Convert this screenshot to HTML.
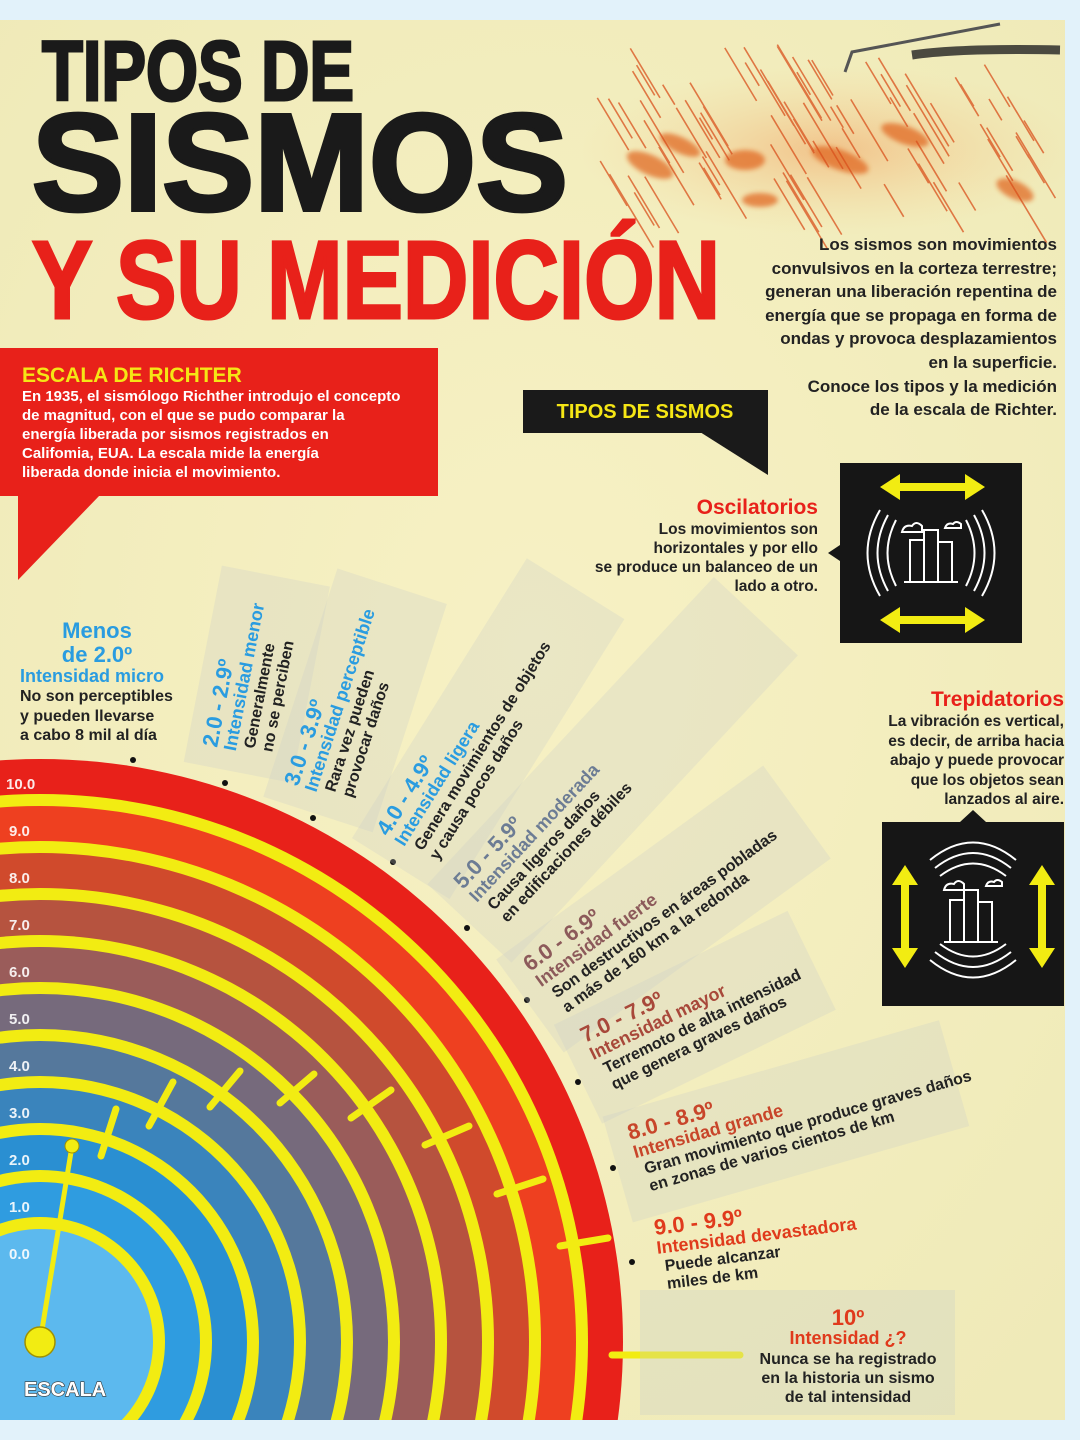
<!DOCTYPE html>
<html><head><meta charset="utf-8">
<style>
html,body{margin:0;padding:0;background:#e2f2fa;width:1080px;height:1440px;overflow:hidden;}
svg{display:block}
text{font-family:"Liberation Sans",sans-serif;}
</style></head>
<body>
<svg width="1080" height="1440" viewBox="0 0 1080 1440" xmlns="http://www.w3.org/2000/svg">
<defs>
<clipPath id="pg"><rect x="0" y="20" width="1065" height="1400"/></clipPath>
<radialGradient id="bgg" cx="0.5" cy="0.45" r="0.7">
<stop offset="0" stop-color="#f7f1c4"/><stop offset="1" stop-color="#efeab8"/></radialGradient>
<radialGradient id="seis" cx="0.5" cy="0.5" r="0.5">
<stop offset="0" stop-color="#f0a060" stop-opacity="0.55"/><stop offset="1" stop-color="#f5d090" stop-opacity="0"/></radialGradient>
<filter id="bl"><feGaussianBlur stdDeviation="2.5"/></filter>
</defs>
<rect x="0" y="0" width="1080" height="1440" fill="#e2f2fa"/>
<g clip-path="url(#pg)">
<rect x="0" y="20" width="1065" height="1400" fill="url(#bgg)"/>
<!-- seismograph -->
<ellipse cx="830" cy="150" rx="250" ry="85" fill="url(#seis)"/>
<g filter="url(#bl)" fill="#e0641e" opacity="0.7">
<ellipse cx="650" cy="165" rx="25" ry="10" transform="rotate(25 650 165)"/>
<ellipse cx="680" cy="145" rx="22" ry="8" transform="rotate(25 680 145)"/>
<ellipse cx="745" cy="160" rx="20" ry="10"/>
<ellipse cx="840" cy="160" rx="30" ry="10" transform="rotate(20 840 160)"/>
<ellipse cx="905" cy="135" rx="25" ry="9" transform="rotate(20 905 135)"/>
<ellipse cx="1015" cy="190" rx="20" ry="9" transform="rotate(25 1015 190)"/>
<ellipse cx="760" cy="200" rx="18" ry="7"/>
</g>
<g id="seisg" stroke="#d8501c" stroke-width="1.6" fill="none" opacity="0.75"></g>
<path d="M845 72 L852 52 L1000 24" stroke="#555" stroke-width="3" fill="none"/>
<path d="M912 55 Q960 48 1060 50" stroke="#222" stroke-width="9" fill="none" opacity="0.8"/>

<!-- arcs -->
<g>
<circle cx="40" cy="1342" r="583" fill="#e8211a"/><circle cx="40" cy="1342" r="548" fill="#f2ec12"/>
<circle cx="40" cy="1342" r="536" fill="#ee4020"/><circle cx="40" cy="1342" r="501" fill="#f2ec12"/>
<circle cx="40" cy="1342" r="489" fill="#d04a2c"/><circle cx="40" cy="1342" r="454" fill="#f2ec12"/>
<circle cx="40" cy="1342" r="442" fill="#b6533f"/><circle cx="40" cy="1342" r="407" fill="#f2ec12"/>
<circle cx="40" cy="1342" r="395" fill="#9a5c5a"/><circle cx="40" cy="1342" r="360" fill="#f2ec12"/>
<circle cx="40" cy="1342" r="348" fill="#766a7c"/><circle cx="40" cy="1342" r="313" fill="#f2ec12"/>
<circle cx="40" cy="1342" r="301" fill="#55789c"/><circle cx="40" cy="1342" r="266" fill="#f2ec12"/>
<circle cx="40" cy="1342" r="254" fill="#3a84bc"/><circle cx="40" cy="1342" r="219" fill="#f2ec12"/>
<circle cx="40" cy="1342" r="207" fill="#2a8fd2"/><circle cx="40" cy="1342" r="172" fill="#f2ec12"/>
<circle cx="40" cy="1342" r="160" fill="#2f9ce0"/><circle cx="40" cy="1342" r="125" fill="#f2ec12"/>
<circle cx="40" cy="1342" r="113" fill="#5cb9ee"/>
</g>
<g fill="#fff" font-weight="bold" font-size="15" opacity="0.9">
<text x="6" y="789">10.0</text><text x="9" y="836">9.0</text><text x="9" y="883">8.0</text>
<text x="9" y="930">7.0</text><text x="9" y="977">6.0</text><text x="9" y="1024">5.0</text>
<text x="9" y="1071">4.0</text><text x="9" y="1118">3.0</text><text x="9" y="1165">2.0</text>
<text x="9" y="1212">1.0</text><text x="9" y="1259">0.0</text>
</g>
<g stroke="#f2ec12" stroke-width="7" stroke-linecap="round">
<line x1="101" y1="1156" x2="116" y2="1109"/><line x1="149" y1="1126" x2="173" y2="1082"/>
<line x1="210" y1="1107" x2="240" y2="1071"/><line x1="280" y1="1103" x2="314" y2="1074"/>
<line x1="351" y1="1118" x2="391" y2="1090"/><line x1="425" y1="1145" x2="469" y2="1126"/>
<line x1="497" y1="1194" x2="543" y2="1179"/><line x1="560" y1="1246" x2="608" y2="1238"/>
<line x1="612" y1="1355" x2="740" y2="1355"/>
<line x1="40" y1="1342" x2="72" y2="1146" stroke-width="5"/>
</g>
<circle cx="72" cy="1146" r="7" fill="#f2ec12" stroke="#a09000" stroke-width="1"/>
<circle cx="40" cy="1342" r="15" fill="#f2ec12" stroke="#a09000" stroke-width="1.5"/>
<text x="24" y="1396" font-size="20" font-weight="bold" fill="#fff" stroke="#333" stroke-width="1.2" paint-order="stroke">ESCALA</text>
</g>

<!-- title -->
<text x="42" y="100" font-size="84" font-weight="bold" fill="#1a1a1a" stroke="#1a1a1a" stroke-width="3" textLength="312" lengthAdjust="spacingAndGlyphs">TIPOS DE</text>
<text x="32" y="210" font-size="138" font-weight="bold" fill="#1a1a1a" stroke="#1a1a1a" stroke-width="4" textLength="536" lengthAdjust="spacingAndGlyphs">SISMOS</text>
<text x="32" y="318" font-size="110" font-weight="bold" fill="#e8211a" stroke="#e8211a" stroke-width="3" textLength="688" lengthAdjust="spacingAndGlyphs">Y SU MEDICIÓN</text>

<!-- intro paragraph -->
<g font-size="17" font-weight="bold" fill="#222" text-anchor="end">
<text x="1057" y="250">Los sismos son movimientos</text>
<text x="1057" y="274">convulsivos en la corteza terrestre;</text>
<text x="1057" y="297">generan una liberación repentina de</text>
<text x="1057" y="321">energía que se propaga en forma de</text>
<text x="1057" y="344">ondas y provoca desplazamientos</text>
<text x="1057" y="368">en la superficie.</text>
<text x="1057" y="392">Conoce los tipos y la medición</text>
<text x="1057" y="415">de la escala de Richter.</text>
</g>

<!-- Richter box -->
<rect x="0" y="348" width="438" height="148" fill="#e8211a"/>
<polygon points="18,495 100,495 18,580" fill="#e8211a"/>
<text x="22" y="382" font-size="21" font-weight="bold" fill="#f5e615">ESCALA DE RICHTER</text>
<g font-size="15" font-weight="bold" fill="#fff">
<text x="22" y="401">En 1935, el sismólogo Richther introdujo el concepto</text>
<text x="22" y="420">de magnitud, con el que se pudo comparar la</text>
<text x="22" y="439">energía liberada por sismos registrados en</text>
<text x="22" y="458">Califomia, EUA. La escala mide la energía</text>
<text x="22" y="477">liberada donde inicia el movimiento.</text>
</g>

<!-- Tipos de sismos label -->
<rect x="523" y="390" width="245" height="43" fill="#1a1a1a"/>
<polygon points="700,432 768,432 768,475" fill="#1a1a1a"/>
<text x="645" y="418" font-size="20" font-weight="bold" fill="#f5e615" text-anchor="middle">TIPOS DE SISMOS</text>

<!-- Oscilatorios -->
<text x="818" y="514" font-size="21" font-weight="bold" fill="#e8211a" text-anchor="end">Oscilatorios</text>
<g font-size="15.5" font-weight="bold" fill="#222" text-anchor="end">
<text x="818" y="534">Los movimientos  son</text>
<text x="818" y="553">horizontales y por ello</text>
<text x="818" y="572">se produce un balanceo  de un</text>
<text x="818" y="591">lado a otro.</text>
</g>
<rect x="840" y="463" width="182" height="180" fill="#161616"/>
<polygon points="840,545 828,553 840,561" fill="#161616"/>
<g fill="#f2ec12">
<polygon points="880,487 900,474 900,483 965,483 965,474 985,487 965,500 965,491 900,491 900,500"/>
<polygon points="880,620 900,607 900,616 965,616 965,607 985,620 965,633 965,624 900,624 900,633"/>
</g>
<g stroke="#fff" stroke-width="2" fill="none">
<path d="M880 510 Q855 553 880 596"/><path d="M888 515 Q867 553 888 591"/><path d="M896 520 Q879 553 896 586"/>
<path d="M982 510 Q1007 553 982 596"/><path d="M974 515 Q995 553 974 591"/><path d="M966 520 Q983 553 966 586"/>
<rect x="910" y="540" width="14" height="42"/><rect x="924" y="530" width="14" height="52"/><rect x="938" y="542" width="14" height="40"/>
<line x1="904" y1="582" x2="958" y2="582"/>
<path d="M902 532 q2 -8 10 -6 q4 -6 10 0 l0 6 z"/><path d="M945 528 q2 -6 8 -4 q3 -4 8 0 l0 4 z"/>
</g>

<!-- Trepidatorios -->
<text x="1064" y="706" font-size="21" font-weight="bold" fill="#e8211a" text-anchor="end">Trepidatorios</text>
<g font-size="15.5" font-weight="bold" fill="#222" text-anchor="end">
<text x="1064" y="726">La vibración es vertical,</text>
<text x="1064" y="746">es decir, de arriba hacia</text>
<text x="1064" y="765">abajo y puede provocar</text>
<text x="1064" y="785">que los objetos sean</text>
<text x="1064" y="804">lanzados al aire.</text>
</g>
<rect x="882" y="822" width="182" height="184" fill="#161616"/>
<polygon points="960,822 973,810 986,822" fill="#161616"/>
<g fill="#f2ec12">
<polygon points="905,865 918,885 909,885 909,948 918,948 905,968 892,948 901,948 901,885 892,885"/>
<polygon points="1042,865 1055,885 1046,885 1046,948 1055,948 1042,968 1029,948 1038,948 1038,885 1029,885"/>
</g>
<g stroke="#fff" stroke-width="2" fill="none">
<path d="M930 860 Q973 825 1016 860"/><path d="M935 868 Q973 838 1011 868"/><path d="M940 876 Q973 851 1006 876"/>
<path d="M930 960 Q973 995 1016 960"/><path d="M935 952 Q973 982 1011 952"/><path d="M940 944 Q973 969 1006 944"/>
<rect x="950" y="900" width="14" height="42"/><rect x="964" y="890" width="14" height="52"/><rect x="978" y="902" width="14" height="40"/>
<line x1="944" y1="942" x2="998" y2="942"/>
<path d="M944 890 q2 -8 10 -6 q4 -6 10 0 l0 6 z"/><path d="M986 886 q2 -6 8 -4 q3 -4 8 0 l0 4 z"/>
</g>

<!-- Menos de 2.0 -->
<text x="97" y="638" font-size="22" font-weight="bold" fill="#2a9ce0" text-anchor="middle">Menos</text>
<text x="97" y="662" font-size="22" font-weight="bold" fill="#2a9ce0" text-anchor="middle">de 2.0º</text>
<text x="20" y="682" font-size="18" font-weight="bold" fill="#2a9ce0">Intensidad micro</text>
<g font-size="16" font-weight="bold" fill="#222">
<text x="20" y="701">No son perceptibles</text><text x="20" y="721">y pueden llevarse</text><text x="20" y="740">a cabo 8 mil al día</text>
</g>

<!-- dots -->
<g fill="#111">
<circle cx="133" cy="760" r="3"/><circle cx="225" cy="783" r="3"/><circle cx="313" cy="818" r="3"/>
<circle cx="393" cy="862" r="3"/><circle cx="467" cy="928" r="3"/><circle cx="527" cy="1000" r="3"/>
<circle cx="578" cy="1082" r="3"/><circle cx="613" cy="1168" r="3"/><circle cx="632" cy="1262" r="3"/>
</g>

<!-- sector labels -->
<g font-weight="bold">
<g transform="translate(217,748) rotate(-79)">
<rect x="-20" y="-30" width="200" height="110" fill="#c8ccc8" opacity="0.28"/>
<text x="0" y="0" font-size="22" fill="#2a9ce0">2.0 - 2.9º</text>
<text x="0" y="19" font-size="18" fill="#2a9ce0">Intensidad menor</text>
<text x="6" y="37" font-size="16" fill="#222">Generalmente</text>
<text x="6" y="55" font-size="16" fill="#222">no se perciben</text>
</g>
<g transform="translate(298,787) rotate(-72)">
<rect x="-20" y="-30" width="240" height="115" fill="#c8ccc8" opacity="0.28"/>
<text x="0" y="0" font-size="22" fill="#2a9ce0">3.0 - 3.9º</text>
<text x="0" y="19" font-size="18" fill="#2a9ce0">Intensidad perceptible</text>
<text x="6" y="37" font-size="16" fill="#222">Rara vez pueden</text>
<text x="6" y="55" font-size="16" fill="#222">provocar daños</text>
</g>
<g transform="translate(388,837) rotate(-58)">
<rect x="-20" y="-30" width="330" height="115" fill="#c8ccc8" opacity="0.28"/>
<text x="0" y="0" font-size="22" fill="#2a9ce0">4.0 - 4.9º</text>
<text x="0" y="19" font-size="18" fill="#2a9ce0">Intensidad ligera</text>
<text x="6" y="37" font-size="16" fill="#222">Genera movimientos de objetos</text>
<text x="6" y="55" font-size="16" fill="#222">y causa pocos daños</text>
</g>
<g transform="translate(463,890) rotate(-47)">
<rect x="-20" y="-30" width="420" height="115" fill="#c8ccc8" opacity="0.28"/>
<text x="0" y="0" font-size="22" fill="#6c7c94">5.0 - 5.9º</text>
<text x="0" y="19" font-size="18" fill="#6c7c94">Intensidad moderada</text>
<text x="6" y="37" font-size="16" fill="#222">Causa ligeros daños</text>
<text x="6" y="55" font-size="16" fill="#222">en edificaciones débiles</text>
</g>
<g transform="translate(530,972) rotate(-36)">
<rect x="-20" y="-30" width="330" height="115" fill="#c8ccc8" opacity="0.28"/>
<text x="0" y="0" font-size="22" fill="#8c5a5a">6.0 - 6.9º</text>
<text x="0" y="19" font-size="18" fill="#8c5a5a">Intensidad fuerte</text>
<text x="6" y="37" font-size="16" fill="#222">Son destructivos en áreas pobladas</text>
<text x="6" y="55" font-size="16" fill="#222">a más de 160 km a la redonda</text>
</g>
<g transform="translate(585,1043) rotate(-26)">
<rect x="-20" y="-30" width="260" height="110" fill="#c8ccc8" opacity="0.28"/>
<text x="0" y="0" font-size="22" fill="#a8483a">7.0 - 7.9º</text>
<text x="0" y="19" font-size="18" fill="#a8483a">Intensidad mayor</text>
<text x="6" y="37" font-size="16" fill="#222">Terremoto de alta intensidad</text>
<text x="6" y="55" font-size="16" fill="#222">que genera graves daños</text>
</g>
<g transform="translate(630,1140) rotate(-16)">
<rect x="-20" y="-30" width="350" height="110" fill="#c8ccc8" opacity="0.28"/>
<text x="0" y="0" font-size="22" fill="#c8452a">8.0 - 8.9º</text>
<text x="0" y="19" font-size="18" fill="#c8452a">Intensidad grande</text>
<text x="6" y="37" font-size="16" fill="#222">Gran movimiento que produce graves daños</text>
<text x="6" y="55" font-size="16" fill="#222">en zonas de varios cientos de km</text>
</g>
<g transform="translate(655,1235) rotate(-7)">
<text x="0" y="0" font-size="22" fill="#e03a1c">9.0 - 9.9º</text>
<text x="0" y="19" font-size="18" fill="#e03a1c">Intensidad devastadora</text>
<text x="6" y="37" font-size="16" fill="#222">Puede alcanzar</text>
<text x="6" y="55" font-size="16" fill="#222">miles de km</text>
</g>
<rect x="640" y="1290" width="315" height="125" fill="#c8ccc8" opacity="0.3"/>
<g text-anchor="middle">
<text x="848" y="1325" font-size="22" fill="#e03a1c">10º</text>
<text x="848" y="1344" font-size="18" fill="#e03a1c">Intensidad ¿?</text>
<text x="848" y="1364" font-size="16" fill="#222">Nunca se ha registrado</text>
<text x="848" y="1383" font-size="16" fill="#222">en la historia un sismo</text>
<text x="848" y="1402" font-size="16" fill="#222">de tal intensidad</text>
</g>
</g>
</svg>
<script>
(function(){
var g=document.getElementById('seisg');var s=7,d='';
function r(){s=(s*9301+49297)%233280;return s/233280;}
for(var i=0;i<80;i++){
 var x=610+r()*430, y=70+r()*150, L=20+r()*55;
 d+='M'+(x-L*0.3).toFixed(1)+' '+(y-L/2).toFixed(1)+' L'+(x+L*0.3).toFixed(1)+' '+(y+L/2).toFixed(1)+' ';
}
var p=document.createElementNS('http://www.w3.org/2000/svg','path');p.setAttribute('d',d);g.appendChild(p);
})();
</script>
</body></html>
